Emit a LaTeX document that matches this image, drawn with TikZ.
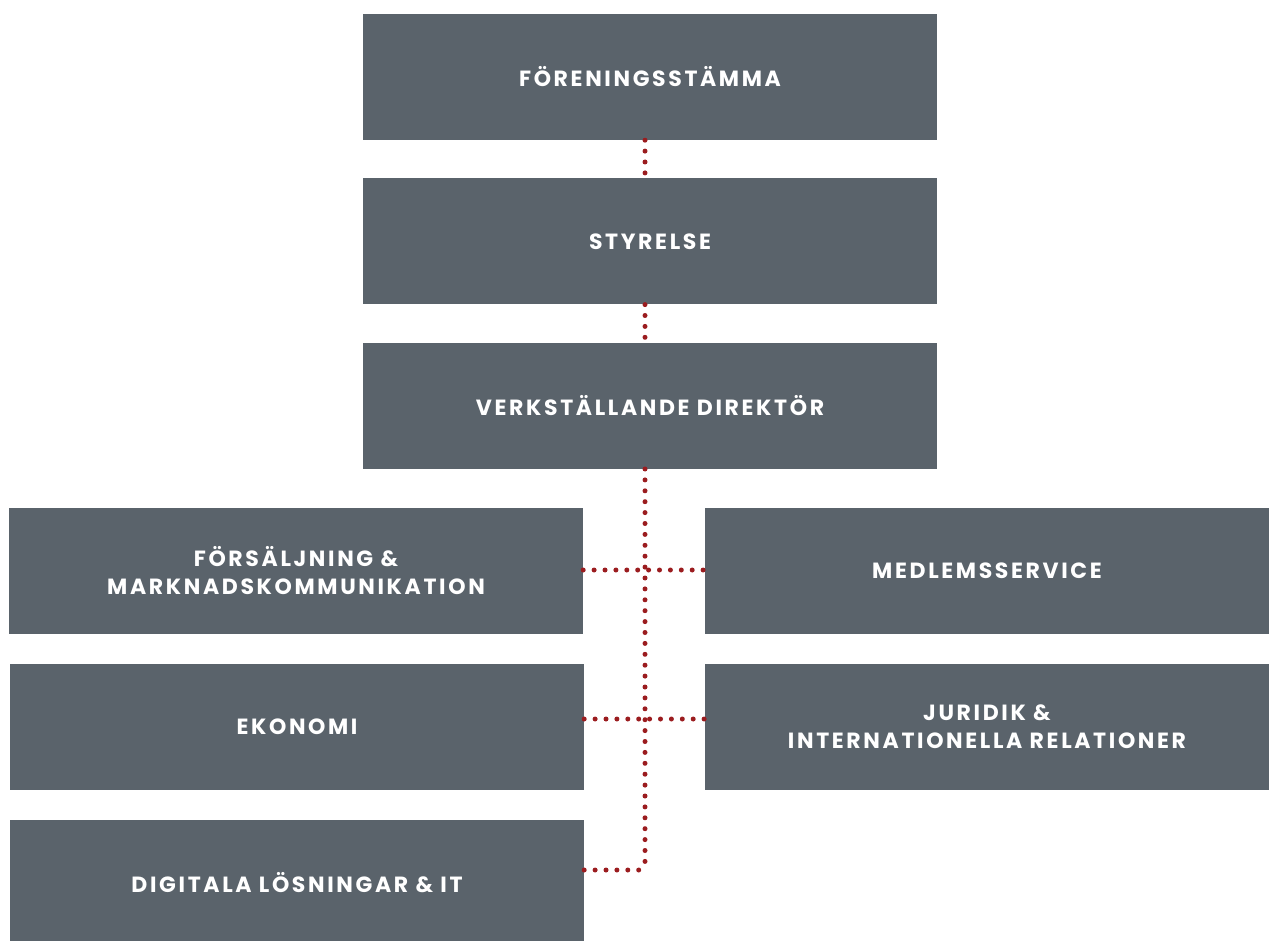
\documentclass[tikz,border=0pt]{standalone}
\usepackage{fontspec}
\setmainfont{Poppins}[LetterSpace=12]
\usepackage{tikz}
\usetikzlibrary{positioning}
\definecolor{boxgray}{HTML}{5A636B}
\definecolor{dotred}{HTML}{9B1C1F}

\begin{document}
\begin{tikzpicture}[x=1pt,y=-1pt]
\tikzstyle{unit}=[fill=boxgray, text=white, font=\fontsize{22}{28}\selectfont\bfseries, align=center, minimum height=126pt, minimum width=574pt, inner sep=0pt]
\tikzstyle{dotline}=[draw=dotred, line width=5pt, line cap=round, dash pattern=on 0pt off 10.9pt]
\useasboundingbox (0,0) rectangle (1269,941);
\node[unit] (0) at (650,77) {FÖRENINGSSTÄMMA};
\node[unit] (1) [below=38pt of 0] {STYRELSE};
\node[unit] (2) [below=38pt of 1] {VERKSTÄLLANDE DIREKTÖR};
\node[unit] (3) at (296,571) {FÖRSÄLJNING \&\\MARKNADSKOMMUNIKATION};
\node[unit] (4) at (297,727) {EKONOMI};
\node[unit] (5) at (297,883) {DIGITALA LÖSNINGAR \& IT};
\node[unit, minimum width=564pt] (6) at (987,571) {MEDLEMSSERVICE};
\node[unit, minimum width=564pt] (7) at (987,727) {JURIDIK \&\\INTERNATIONELLA RELATIONER};

\coordinate (a) at (645,570);
\coordinate (b) at (645,719);
\coordinate (c) at (645,870);

\draw[dotline] (0.south -| c) to (1.north -| c);
\draw[dotline] (1.south -| c) to (2.north -| c);
\draw[dotline] (2.south -| c) to (c);
\draw[dotline] (3.east |- a) to (6.west |- a);
\draw[dotline] (4.east |- b) to (7.west |- b);
\draw[dotline] (5.east |- c) to (c);

\end{tikzpicture}
\end{document}
